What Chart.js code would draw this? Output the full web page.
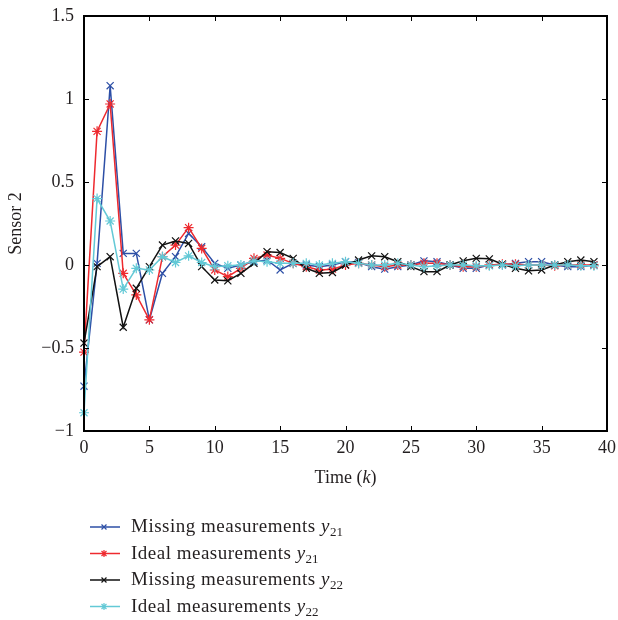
<!DOCTYPE html>
<html>
<head>
<meta charset="utf-8">
<script src="https://cdn.jsdelivr.net/npm/chart.js@4.4.0/dist/chart.umd.min.js"></script>
<style>
  html, body { margin: 0; padding: 0; background: #fff; }
  #wrap { position: relative; width: 618px; height: 620px; }
  #chart { position: absolute; left: 0; top: 0; }
  .txt {
    position: absolute;
    font-family: 'Liberation Serif', 'DejaVu Serif', serif;
    font-size: 18px;
    line-height: 22px;
    color: #231f20;
    white-space: nowrap;
  }
  .leg { font-size: 19px; letter-spacing: 0.5px; }
  .txt sub { font-size: 13px; vertical-align: -4px; line-height: 0; letter-spacing: 0; }
</style>
</head>
<body>
<div id="wrap">
  <canvas id="chart" width="618" height="620"></canvas>
  <div class="txt" id="xTitle" style="left:84px; width:523px; text-align:center; top:466px;">Time (<i>k</i>)</div>
  <div id="legend"></div>
</div>
<script>
// --- dados ---
const timeSteps = [0, 1, 2, 3, 4, 5, 6, 7, 8, 9, 10, 11, 12, 13, 14, 15, 16, 17, 18, 19,
                   20, 21, 22, 23, 24, 25, 26, 27, 28, 29, 30, 31, 32, 33, 34, 35, 36, 37, 38, 39];

const missingY21 = [-0.73, 0.01, 1.08, 0.07, 0.07, -0.33, -0.05, 0.05, 0.19, 0.11,
                    0.01, -0.02, 0.0, 0.02, 0.03, -0.03, 0.01, 0.0, -0.01, 0.0,
                    0.02, 0.015, -0.01, -0.025, -0.01, 0.0, 0.025, 0.02, 0.0, -0.02,
                    -0.02, 0.0, 0.0, 0.01, 0.02, 0.02, 0.0, -0.01, -0.01, 0.0];

const idealY21 = [-0.525, 0.805, 0.97, -0.05, -0.18, -0.33, 0.05, 0.12, 0.225, 0.1,
                  -0.03, -0.07, -0.02, 0.04, 0.06, 0.04, 0.01, -0.01, -0.03, -0.025,
                  0.0, 0.01, 0.0, -0.01, 0.0, 0.0, 0.01, 0.01, 0.0, -0.01,
                  -0.01, 0.0, 0.005, 0.005, 0.0, 0.0, -0.005, 0.0, 0.0, 0.0];

const missingY22 = [-0.47, -0.01, 0.05, -0.375, -0.14, -0.01, 0.12, 0.145, 0.13, -0.01,
                    -0.09, -0.095, -0.05, 0.01, 0.08, 0.075, 0.04, -0.02, -0.05, -0.045,
                    0.0, 0.03, 0.055, 0.05, 0.02, -0.01, -0.04, -0.04, 0.0, 0.025,
                    0.04, 0.037, 0.005, -0.02, -0.035, -0.03, 0.0, 0.02, 0.03, 0.02];

const idealY22 = [-0.89, 0.40, 0.265, -0.145, -0.02, -0.03, 0.05, 0.015, 0.055, 0.015,
                  -0.01, -0.005, 0.0, 0.025, 0.02, 0.01, 0.01, 0.01, 0.0, 0.01,
                  0.02, 0.01, 0.0, 0.0, 0.01, 0.0, -0.01, -0.005, 0.0, 0.0,
                  -0.005, -0.005, 0.0, -0.005, 0.0, 0.0, 0.0, 0.0, -0.005, -0.005];

const seriesNames = ['Missing measurements', 'Ideal measurements', 'Missing measurements', 'Ideal measurements'];
const seriesSubs = ['21', '21', '22', '22'];
const xTicks = [0, 5, 10, 15, 20, 25, 30, 35, 40];
const yTicks = [-1, -0.5, 0, 0.5, 1, 1.5];

// --- estilo ---
const Cores = {
  blue: '#2d4fa6',
  red: '#ee2a2f',
  black: '#111111',
  cyan: '#63c9d6',
  text: '#231f20'
};
const serif = "'Liberation Serif', 'DejaVu Serif', serif";

const seriesStyle = [
  { data: missingY21, color: Cores.blue, marker: 'crossRot', radius: 5, order: 3 },
  { data: idealY21, color: Cores.red, marker: 'star', radius: 5, order: 2 },
  { data: missingY22, color: Cores.black, marker: 'crossRot', radius: 5, order: 1 },
  { data: idealY22, color: Cores.cyan, marker: 'star', radius: 5, order: 0 }
];

// legenda (HTML para permitir subscrito/itálico)
const legendRowsY = [527, 553.5, 580, 606.5];
const legendEl = document.getElementById('legend');
seriesNames.forEach((name, i) => {
  const div = document.createElement('div');
  div.className = 'txt leg';
  div.style.left = '131px';
  div.style.top = (legendRowsY[i] - 12) + 'px';
  div.innerHTML = name + ' <i>y</i><sub>' + seriesSubs[i] + '</sub>';
  legendEl.appendChild(div);
});

// moldura com marcas para dentro (estilo MATLAB) + amostras da legenda
const framePlugin = {
  id: 'frame',
  afterDraw(chart) {
    const ctx = chart.ctx;
    const a = chart.chartArea;
    const xs = chart.scales.x, ys = chart.scales.y;
    const tl = 5;
    ctx.save();
    ctx.strokeStyle = '#000';
    ctx.lineWidth = 1;
    ctx.beginPath();
    xTicks.forEach(v => {
      const px = Math.round(xs.getPixelForValue(v)) + 0.5;
      ctx.moveTo(px, a.bottom); ctx.lineTo(px, a.bottom - tl);
      ctx.moveTo(px, a.top); ctx.lineTo(px, a.top + tl);
    });
    yTicks.forEach(v => {
      const py = Math.round(ys.getPixelForValue(v)) + 0.5;
      ctx.moveTo(a.left, py); ctx.lineTo(a.left + tl, py);
      ctx.moveTo(a.right, py); ctx.lineTo(a.right - tl, py);
    });
    ctx.stroke();
    ctx.lineWidth = 2;
    ctx.strokeRect(a.left, a.top, a.right - a.left, a.bottom - a.top);

    // amostras da legenda
    seriesStyle.forEach((s, i) => {
      const y = legendRowsY[i];
      ctx.strokeStyle = s.color;
      ctx.fillStyle = s.color;
      ctx.lineWidth = 1.5;
      ctx.beginPath();
      ctx.moveTo(90, y); ctx.lineTo(120, y);
      ctx.stroke();
      ctx.lineWidth = 1.2;
      Chart.helpers.drawPoint(ctx, {
        pointStyle: s.marker, radius: 3.5, borderWidth: 1.2, rotation: 0
      }, 104, y);
    });
    ctx.restore();
  }
};

const fmt = v => (v < 0 ? '\u2212' : '') + Math.abs(v);

new Chart(document.getElementById('chart'), {
  type: 'line',
  data: {
    labels: timeSteps,
    datasets: seriesStyle.map((s, i) => ({
      label: seriesNames[i] + ' y' + seriesSubs[i],
      data: s.data,
      borderColor: s.color,
      backgroundColor: s.color,
      pointBorderColor: s.color,
      pointStyle: s.marker,
      pointRadius: s.radius,
      pointBorderWidth: 1.2,
      borderWidth: 1.5,
      tension: 0,
      fill: false,
      clip: false,
      order: s.order
    }))
  },
  options: {
    responsive: false,
    animation: false,
    events: [],
    layout: { padding: { top: 16, right: 11, left: 0, bottom: 0 } },
    plugins: { legend: { display: false }, tooltip: { enabled: false } },
    scales: {
      x: {
        type: 'linear',
        min: 0, max: 40,
        grid: { display: false, drawTicks: false },
        border: { display: false },
        afterBuildTicks: s => { s.ticks = xTicks.map(v => ({ value: v })); },
        afterFit: s => { s.height = 189; s.paddingRight = 0; s.paddingLeft = 0; },
        ticks: {
          color: Cores.text,
          font: { family: serif, size: 18 },
          padding: 6,
          maxRotation: 0,
          autoSkip: false
        }
      },
      y: {
        min: -1, max: 1.5,
        grid: { display: false, drawTicks: false },
        border: { display: false },
        afterBuildTicks: s => { s.ticks = yTicks.map(v => ({ value: v })); },
        afterFit: s => { s.width = 84; s.paddingTop = 0; s.paddingBottom = 0; },
        ticks: {
          color: Cores.text,
          font: { family: serif, size: 18 },
          padding: 10,
          callback: v => fmt(v)
        },
        title: {
          display: true,
          text: 'Sensor 2',
          color: Cores.text,
          font: { family: serif, size: 18 },
          padding: { top: 5, bottom: 0 }
        }
      }
    }
  },
  plugins: [framePlugin]
});
</script>
</body>
</html>
